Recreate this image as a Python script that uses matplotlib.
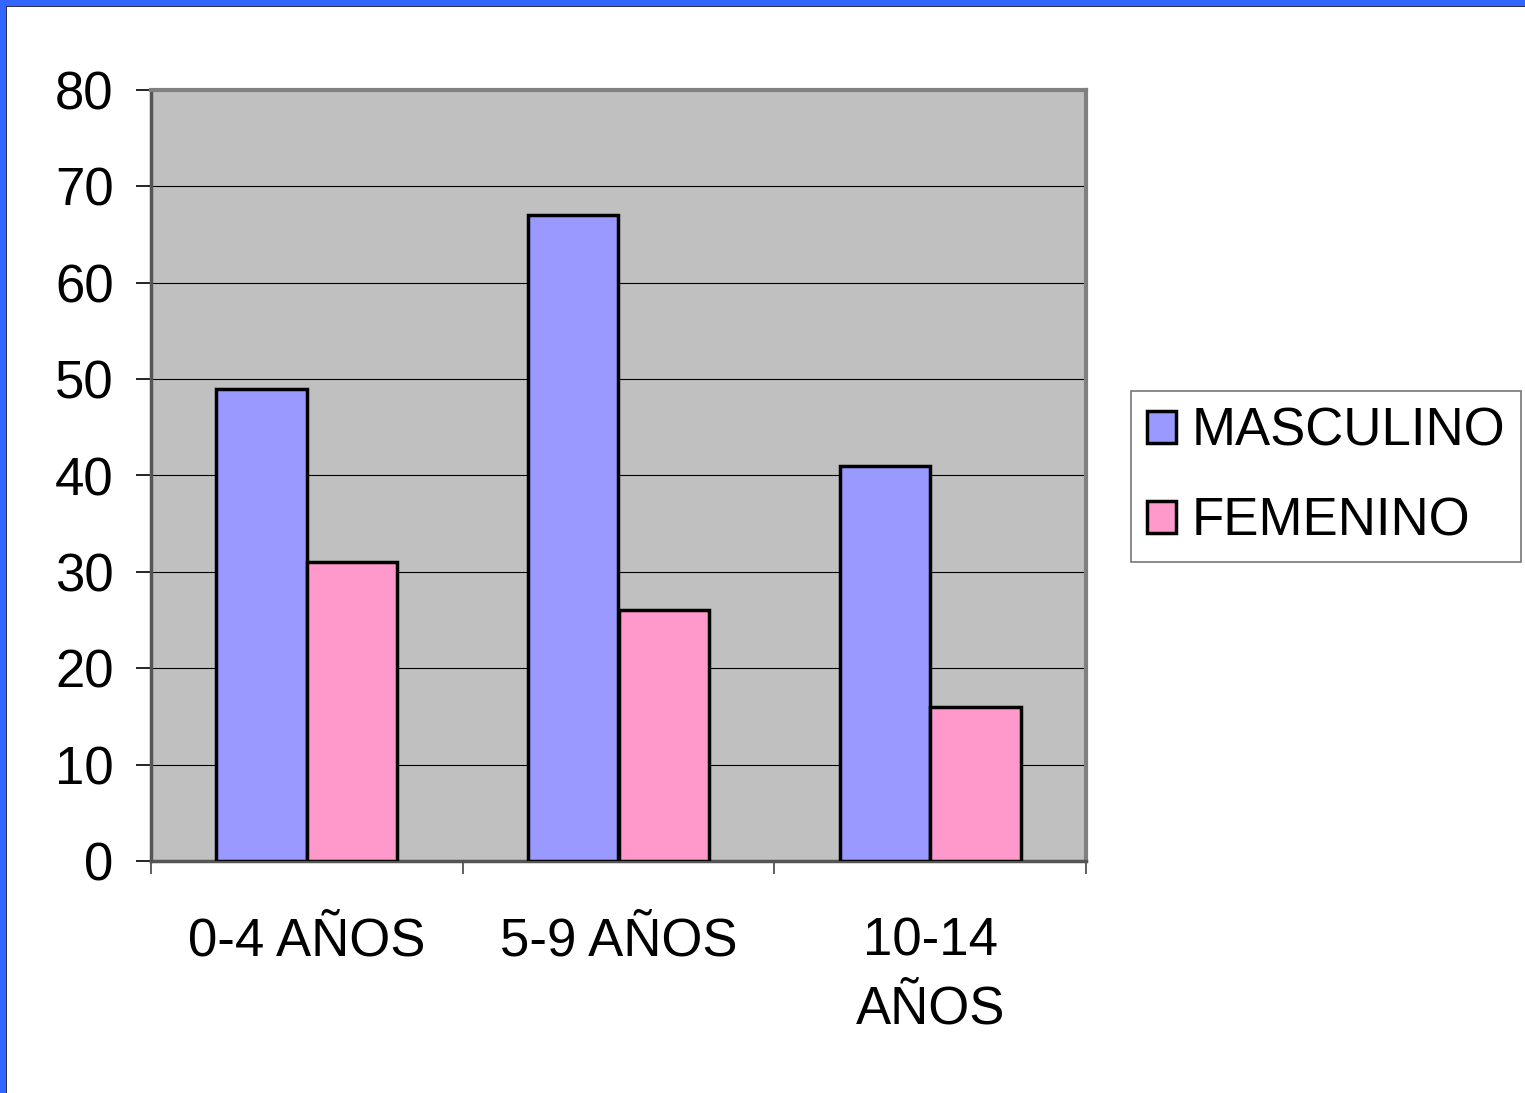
import numpy as np
import matplotlib.pyplot as plt
from matplotlib.patches import Rectangle

categories = ["0-4 AÑOS", "5-9 AÑOS", "10-14\nAÑOS"]
masculino = [49, 67, 41]
femenino = [31, 26, 16]
y_ticks = [0, 10, 20, 30, 40, 50, 60, 70, 80]

plt.rcParams['font.family'] = ['Liberation Sans', 'DejaVu Sans']

fig = plt.figure(figsize=(15.25, 10.93), dpi=100)
ax = fig.add_axes([151/1525, 1 - 861/1093, 935/1525, 771/1093])

x = np.arange(len(categories))
w = 0.29
ax.set_facecolor('#C0C0C0')
ax.bar(x - w/2, masculino, w, color='#9999FF', edgecolor='black', linewidth=2.5,
       label='MASCULINO', zorder=3)
ax.bar(x + w/2, femenino, w, color='#FF99CC', edgecolor='black', linewidth=2.5,
       label='FEMENINO', zorder=3)

ax.set_xlim(-0.5, 2.5)
ax.set_ylim(0, 80)
ax.set_yticks(y_ticks)
ax.yaxis.grid(True, color='black', linewidth=0.8, zorder=1)
ax.set_axisbelow(True)
ax.tick_params(axis='y', labelsize=38, length=11, width=1.2, direction='out', pad=16)

# category ticks at group boundaries, labels centred
ax.set_xticks([-0.5, 0.5, 1.5, 2.5])
ax.set_xticklabels([])
ax.tick_params(axis='x', length=9, width=1.2, direction='out', color='#444444')
ax.set_xticks(x, minor=True)
ax.set_xticklabels(categories, minor=True, fontsize=38, linespacing=1.45)
ax.tick_params(axis='x', which='minor', length=0, pad=40)

for side in ['top', 'right']:
    ax.spines[side].set_color('#808080')
    ax.spines[side].set_linewidth(3)
ax.spines['left'].set_color('#555555')
ax.spines['left'].set_linewidth(2.5)
ax.spines['bottom'].set_color('#555555')
ax.spines['bottom'].set_linewidth(2.5)

leg = fig.legend(loc='upper left', bbox_to_anchor=(1131/1525, 1 - 391/1093),
                 fontsize=38, frameon=True, fancybox=False, edgecolor='#555555',
                 handlelength=0.55, handleheight=0.55, handletextpad=0.3,
                 borderpad=0.3, labelspacing=0.75, borderaxespad=0)
leg.get_frame().set_linewidth(1.2)

# blue slide border on top and left
fig.patches.append(Rectangle((0, 1 - 5/1093), 1, 5/1093, transform=fig.transFigure,
                             color='#3366FF', zorder=10))
fig.patches.append(Rectangle((0, 0), 5/1525, 1, transform=fig.transFigure,
                             color='#3366FF', zorder=10))
fig.add_artist(plt.Line2D([5/1525, 1], [1 - 5.5/1093] * 2, color='black', linewidth=1.2))
fig.add_artist(plt.Line2D([5.5/1525] * 2, [0, 1 - 5/1093], color='black', linewidth=1.2))

fig.savefig('out.png', dpi=100)
